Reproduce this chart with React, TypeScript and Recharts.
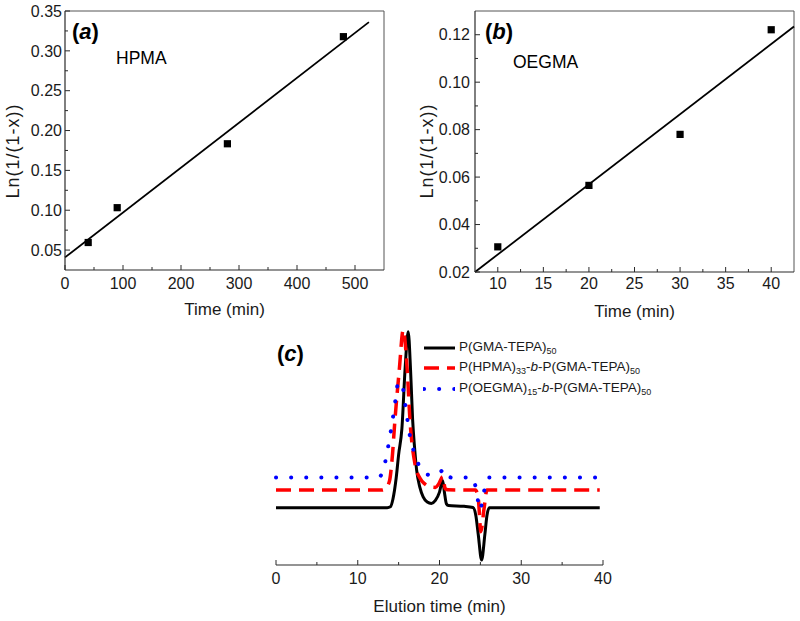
import {
  ComposedChart,
  Line,
  Scatter,
  XAxis,
  YAxis,
  ZAxis,
  ReferenceLine,
  Legend,
} from 'recharts'

const FONT = '"Liberation Sans", Arial, Helvetica, sans-serif'
const INK = '#1a1a1a'
const AXIS = '#2a2a2a'
const BOX = '#555555'

// (a) HPMA kinetics
const hpmaTime = [40, 90, 280, 480]
const hpmaLn = [0.0595, 0.1032, 0.1834, 0.3178]
const hpmaFitTime = [0, 524]
const hpmaFitLn = [0.0408, 0.336]

// (b) OEGMA kinetics
const oegmaTime = [10, 20, 30, 40]
const oegmaLn = [0.0306, 0.0565, 0.078, 0.1221]
const oegmaFitTime = [7.5, 42.5]
const oegmaFitLn = [0.02, 0.1235]

// (c) GPC traces, elution time (min) vs detector response (a.u.)
const gmaTime = [0, 13.6, 14.0, 14.3, 14.7, 15.0, 15.4, 15.8, 16.17, 16.46, 16.71, 16.95, 17.2, 17.6, 18.0, 18.5, 19.0, 19.5, 20.0, 20.38, 20.6, 20.85, 21.1, 23.0, 24.1, 24.45, 24.74, 25.15, 25.55, 25.8, 26.1, 39.6]
const gmaSignal = [24.4, 24.4, 24.8, 28, 37, 47, 58, 84, 99.3, 83, 62, 50, 40.5, 33, 29, 26.8, 26.2, 27.5, 31, 36, 31, 26, 25.3, 25.0, 24.5, 21, 13, 2.1, 13, 21, 24.4, 24.4]

const hpmaGpcTime = [0, 13.0, 13.5, 13.9, 14.2, 14.55, 15.08, 15.56, 16.05, 16.38, 17.0, 17.6, 18.2, 18.8, 19.5, 19.9, 20.4, 20.7, 21.0, 24.4, 24.75, 25.06, 25.45, 25.8, 39.6]
const hpmaGpcSignal = [31.9, 31.9, 33, 36, 45, 61.7, 83, 100, 83, 62, 43, 37, 34.5, 33.3, 33, 34.5, 37.6, 32.5, 32, 31.9, 28, 14.2, 24, 31.9, 31.9]

const oegmaGpcTime = [0, 12.5, 12.9, 13.33, 13.8, 14.26, 14.67, 14.96, 15.5, 15.9, 16.4, 17.1, 17.6, 18.2, 19.0, 19.8, 20.6, 21.0, 21.5, 24.0, 24.5, 24.94, 25.4, 25.9, 39.6]
const oegmaGpcSignal = [37.2, 37.2, 38.5, 43.4, 52, 61.7, 71.6, 78, 75.5, 66, 54.6, 46, 41.5, 39, 38.2, 38.5, 41, 38, 37.2, 37.2, 32, 23.4, 30.5, 37.2, 37.2]

// tick values
const aXMajor = [0, 100, 200, 300, 400, 500]
const aXMinor = [50, 150, 250, 350, 450]
const aYMajor = [0.05, 0.1, 0.15, 0.2, 0.25, 0.3, 0.35]
const aYMinor = [0.075, 0.125, 0.175, 0.225, 0.275, 0.325]
const bXMajor = [10, 15, 20, 25, 30, 35, 40]
const bXMinor = [12.5, 17.5, 22.5, 27.5, 32.5, 37.5]
const bYMajor = [0.02, 0.04, 0.06, 0.08, 0.1, 0.12]
const bYMinor = [0.03, 0.05, 0.07, 0.09, 0.11]
const cXMajor = [0, 10, 20, 30, 40]
const cXMinor = [5, 15, 25, 35]

const toPoints = (xs: number[], ys: number[]) => xs.map((t, i) => ({ t, v: ys[i] }))
const allTicks = (a: number[], b: number[]) => [...a, ...b].sort((p, q) => p - q)

const hpmaPoints = toPoints(hpmaTime, hpmaLn)
const hpmaFit = toPoints(hpmaFitTime, hpmaFitLn)
const oegmaPoints = toPoints(oegmaTime, oegmaLn)
const oegmaFit = toPoints(oegmaFitTime, oegmaFitLn)

const traces = [
  { name: 'P(GMA-TEPA)50', data: toPoints(gmaTime, gmaSignal), color: '#000000', width: 3, dash: undefined as string | undefined, cap: 'butt' as const },
  { name: 'P(HPMA)33-b-P(GMA-TEPA)50', data: toPoints(hpmaGpcTime, hpmaGpcSignal), color: '#ff0000', width: 3.5, dash: '15 8', cap: 'butt' as const },
  { name: 'P(OEGMA)15-b-P(GMA-TEPA)50', data: toPoints(oegmaGpcTime, oegmaGpcSignal), color: '#0000ff', width: 4, dash: '0.1 15', cap: 'round' as const },
]

const fmt2 = (v: number) => v.toFixed(2)
const fmt0 = (v: number) => String(v)

// ticks point into the plot; labels only on majors
function bottomTick(majors: number[], fmt: (v: number) => string, gap: number) {
  return (props: any) => {
    const { x, y, payload } = props
    const major = majors.includes(payload.value)
    const axisY = y - gap
    return (
      <g>
        <line x1={x} x2={x} y1={axisY} y2={axisY - (major ? 5 : 3)} stroke={AXIS} strokeWidth={1} />
        {major && (
          <text x={x} y={y} dy="0.71em" textAnchor="middle" fontSize={16} fontFamily={FONT} fill={INK}>
            {fmt(payload.value)}
          </text>
        )}
      </g>
    )
  }
}

function leftTick(majors: number[], fmt: (v: number) => string, gap: number) {
  return (props: any) => {
    const { x, y, payload } = props
    const major = majors.includes(payload.value)
    const axisX = x + gap
    return (
      <g>
        <line x1={axisX} x2={axisX + (major ? 5 : 3)} y1={y} y2={y} stroke={AXIS} strokeWidth={1} />
        {major && (
          <text x={x} y={y} dy="0.36em" textAnchor="end" fontSize={16} fontFamily={FONT} fill={INK}>
            {fmt(payload.value)}
          </text>
        )}
      </g>
    )
  }
}

function xTitle(text: string, drop: number) {
  return (props: any) => {
    const vb = props.viewBox
    return (
      <text x={vb.x + vb.width / 2} y={vb.y + drop} textAnchor="middle" fontSize={17} fontFamily={FONT} fill={INK}>
        {text}
      </text>
    )
  }
}

function yTitle(cx: number, cy: number) {
  return () => (
    <text
      x={cx}
      y={cy}
      transform={`rotate(-90, ${cx}, ${cy})`}
      textAnchor="middle"
      dominantBaseline="central"
      fontSize={18}
      letterSpacing={1}
      fontFamily={FONT}
      fill={INK}
    >
      Ln(1/(1-x))
    </text>
  )
}

function KineticsPanel(props: {
  points: { t: number; v: number }[]
  fit: { t: number; v: number }[]
  xDomain: [number, number]
  yDomain: [number, number]
  xMajor: number[]
  xMinor: number[]
  yMajor: number[]
  yMinor: number[]
  yWidth: number
  right: number
  xHeight: number
  yGap: number
  xGap: number
  titleX: number
}) {
  const p = props
  return (
    <ComposedChart width={400} height={330} margin={{ top: 11, right: p.right, bottom: 0, left: 0 }}>
      <XAxis
        type="number"
        dataKey="t"
        domain={p.xDomain}
        ticks={allTicks(p.xMajor, p.xMinor)}
        interval={0}
        tickSize={0}
        tickMargin={p.xGap}
        tickLine={false}
        tick={bottomTick(p.xMajor, fmt0, p.xGap)}
        height={p.xHeight}
        axisLine={{ stroke: AXIS, strokeWidth: 1.2 }}
        label={xTitle('Time (min)', 45)}
      />
      <YAxis
        type="number"
        dataKey="v"
        domain={p.yDomain}
        ticks={allTicks(p.yMajor, p.yMinor)}
        interval={0}
        tickSize={0}
        tickMargin={p.yGap}
        tickLine={false}
        tick={leftTick(p.yMajor, fmt2, p.yGap)}
        width={p.yWidth}
        axisLine={{ stroke: AXIS, strokeWidth: 1.2 }}
        label={yTitle(p.titleX, 151)}
      />
      <ZAxis range={[52, 52]} />
      <ReferenceLine y={p.yDomain[1]} stroke={BOX} strokeWidth={1} />
      <ReferenceLine x={p.xDomain[1]} stroke={BOX} strokeWidth={1} />
      <Line data={p.fit} dataKey="v" type="linear" stroke="#000" strokeWidth={1.8} dot={false} isAnimationActive={false} />
      <Scatter data={p.points} dataKey="v" fill="#000" shape="square" isAnimationActive={false} />
    </ComposedChart>
  )
}

const legendLabels = [
  <>P(GMA-TEPA)<sub style={{ fontSize: 9, verticalAlign: -3 }}>50</sub></>,
  <>P(HPMA)<sub style={{ fontSize: 9, verticalAlign: -3 }}>33</sub>-<i>b</i>-P(GMA-TEPA)<sub style={{ fontSize: 9, verticalAlign: -3 }}>50</sub></>,
  <>P(OEGMA)<sub style={{ fontSize: 9, verticalAlign: -3 }}>15</sub>-<i>b</i>-P(GMA-TEPA)<sub style={{ fontSize: 9, verticalAlign: -3 }}>50</sub></>,
]

function GpcLegend() {
  return (
    <div style={{ fontFamily: FONT, fontSize: 13.5, color: INK, lineHeight: 1 }}>
      {traces.map((s, i) => (
        <div key={s.name} style={{ display: 'flex', alignItems: 'center', height: 20.5, whiteSpace: 'nowrap' }}>
          <svg width={32} height={8} style={{ display: 'block' }}>
            <line x1={1} y1={4} x2={32} y2={4} stroke={s.color} strokeWidth={s.width} strokeDasharray={s.dash} strokeLinecap={s.cap} />
          </svg>
          <span style={{ marginLeft: 4 }}>{legendLabels[i]}</span>
        </div>
      ))}
    </div>
  )
}

export default function App() {
  return (
    <div style={{ position: 'absolute', left: 0, top: 0, width: 800, height: 621, background: '#fff', fontFamily: FONT }}>
      <div style={{ position: 'absolute', left: 0, top: 0 }}>
        <KineticsPanel
          points={hpmaPoints}
          fit={hpmaFit}
          xDomain={[0, 550]}
          yDomain={[0.025, 0.35]}
          xMajor={aXMajor}
          xMinor={aXMinor}
          yMajor={aYMajor}
          yMinor={aYMinor}
          yWidth={65}
          right={16}
          xHeight={60}
          yGap={3}
          xGap={8}
          titleX={13}
        />
      </div>
      <div style={{ position: 'absolute', left: 400, top: 0 }}>
        <KineticsPanel
          points={oegmaPoints}
          fit={oegmaFit}
          xDomain={[7.5, 42.5]}
          yDomain={[0.02, 0.13]}
          xMajor={bXMajor}
          xMinor={bXMinor}
          yMajor={bYMajor}
          yMinor={bYMinor}
          yWidth={75}
          right={6}
          xHeight={58}
          yGap={5}
          xGap={6}
          titleX={27}
        />
      </div>
      <div style={{ position: 'absolute', left: 240, top: 320 }}>
        <ComposedChart width={440} height={301} margin={{ top: 10, right: 77, bottom: 0, left: 36 }}>
          <XAxis
            type="number"
            dataKey="t"
            domain={[0, 40]}
            ticks={allTicks(cXMajor, cXMinor)}
            interval={0}
            tickSize={0}
            tickMargin={8}
            tickLine={false}
            tick={bottomTick(cXMajor, fmt0, 8)}
            height={56}
            axisLine={{ stroke: AXIS, strokeWidth: 1.2 }}
            label={xTitle('Elution time (min)', 47)}
          />
          <YAxis type="number" dataKey="v" domain={[0, 100]} hide />
          <Legend
            layout="vertical"
            align="center"
            verticalAlign="middle"
            wrapperStyle={{ top: 17.5, left: 183, width: 250 }}
            content={() => <GpcLegend />}
          />
          {traces.map((s) => (
            <Line
              key={s.name}
              name={s.name}
              data={s.data}
              dataKey="v"
              type="monotone"
              stroke={s.color}
              strokeWidth={s.width}
              strokeDasharray={s.dash}
              strokeLinecap={s.cap}
              dot={false}
              isAnimationActive={false}
            />
          ))}
        </ComposedChart>
      </div>
      <svg width={800} height={621} style={{ position: 'absolute', left: 0, top: 0, pointerEvents: 'none' }} fontFamily={FONT} fill="#000">
        <text x={72} y={39} fontSize={22} fontWeight="bold">
          (<tspan fontStyle="italic">a</tspan>)
        </text>
        <text x={116} y={63.5} fontSize={17.5}>HPMA</text>
        <text x={485} y={39} fontSize={22} fontWeight="bold">
          (<tspan fontStyle="italic">b</tspan>)
        </text>
        <text x={513} y={67.5} fontSize={17.5}>OEGMA</text>
        <text x={277} y={361} fontSize={22} fontWeight="bold">
          (<tspan fontStyle="italic">c</tspan>)
        </text>
      </svg>
    </div>
  )
}
